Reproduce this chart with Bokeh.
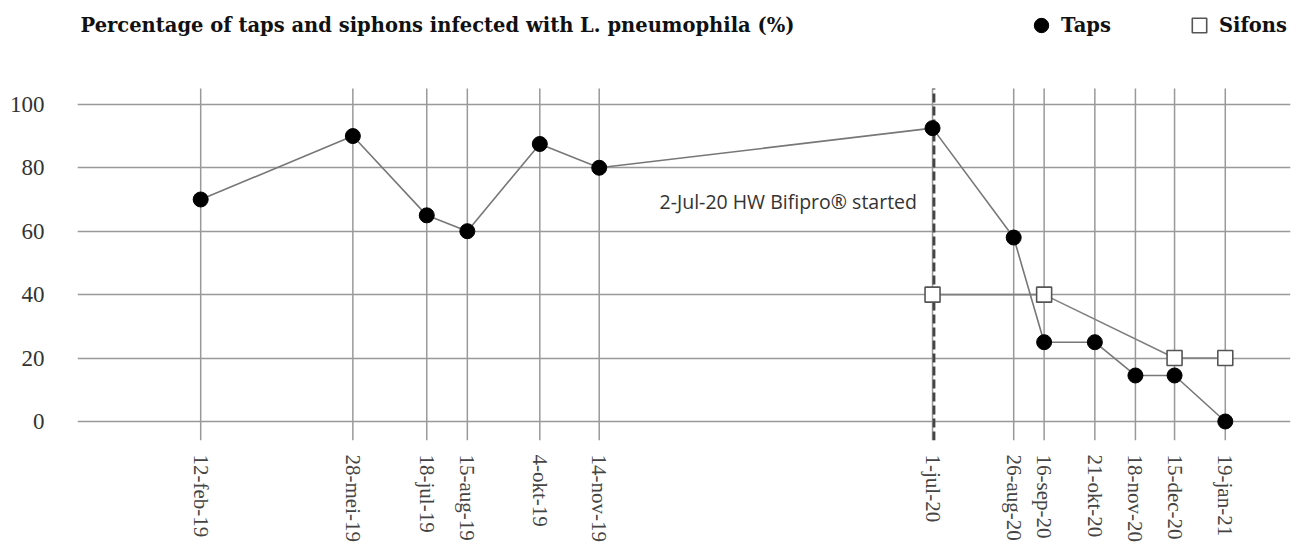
import math
from datetime import datetime
from bokeh.plotting import figure
from bokeh.models import ColumnDataSource, FixedTicker, Range1d, Label, Legend, LegendItem
from bokeh.embed import file_html
from bokeh.resources import INLINE

# ---- data ----
tap_dates = ["2019-02-12", "2019-05-28", "2019-07-18", "2019-08-15", "2019-10-04", "2019-11-14",
             "2020-07-01", "2020-08-26", "2020-09-16", "2020-10-21", "2020-11-18", "2020-12-15", "2021-01-19"]
tap_labels = ["12-feb-19", "28-mei-19", "18-jul-19", "15-aug-19", "4-okt-19", "14-nov-19",
              "1-jul-20", "26-aug-20", "16-sep-20", "21-okt-20", "18-nov-20", "15-dec-20", "19-jan-21"]
tap_values = [70, 90, 65, 60, 87.5, 80, 92.5, 58, 25, 25, 14.5, 14.5, 0]
sifon_dates = ["2020-07-01", "2020-09-16", "2020-12-15", "2021-01-19"]
sifon_values = [40, 40, 20, 20]
y_ticks = [0, 20, 40, 60, 80, 100]
start_date = "2020-07-02"
annotation = "2-Jul-20 HW Bifipro\u00ae started"
title_text = "Percentage of taps and siphons infected with L. pneumophila (%)"
x_start, x_end = "2018-11-19", "2021-03-05"

# layout constants (extent of the vertical grid lines, in value units)
grid_lo, grid_hi = -6, 105
y_top = 132.75


def to_dt(s):
    return datetime.strptime(s, "%Y-%m-%d")


def ms(s):
    return int((to_dt(s) - datetime(1970, 1, 1)).total_seconds() * 1000)


tick_ms = [ms(d) for d in tap_dates]

tap_src = ColumnDataSource(dict(x=[to_dt(d) for d in tap_dates], y=tap_values))
sif_src = ColumnDataSource(dict(x=[to_dt(d) for d in sifon_dates], y=sifon_values))
vgrid_src = ColumnDataSource(dict(x=[to_dt(d) for d in tap_dates],
                                  y0=[grid_lo] * len(tap_dates), y1=[grid_hi] * len(tap_dates)))

p = figure(width=1297, height=545, x_axis_type="datetime", output_backend="svg",
           toolbar_location=None,
           x_range=Range1d(ms(x_start), ms(x_end)), y_range=Range1d(grid_lo, y_top),
           min_border_left=77, min_border_right=7, min_border_top=0, min_border_bottom=105)
p.outline_line_color = None
p.background_fill_color = "white"
p.title.visible = False

# grids
grid_color = "#999999"
p.xgrid.visible = False
p.ygrid.ticker = FixedTicker(ticks=y_ticks)
p.ygrid.grid_line_color = grid_color
p.ygrid.grid_line_width = 1.5
p.segment(x0="x", y0="y0", x1="x", y1="y1", source=vgrid_src,
          line_color=grid_color, line_width=1.5)

serif = "Liberation Serif"

# y axis
p.yaxis.ticker = FixedTicker(ticks=y_ticks)
p.yaxis.axis_line_color = None
p.yaxis.major_tick_line_color = None
p.yaxis.minor_tick_line_color = None
p.yaxis.major_label_text_font = serif
p.yaxis.major_label_text_font_size = "23px"
p.yaxis.major_label_text_color = "#333333"
p.yaxis.major_label_standoff = 27

# x axis
p.xaxis.ticker = FixedTicker(ticks=tick_ms)
p.xaxis.major_label_overrides = dict(zip(tick_ms, tap_labels))
p.xaxis.major_label_orientation = -math.pi / 2
p.xaxis.axis_line_color = None
p.xaxis.major_tick_line_color = None
p.xaxis.minor_tick_line_color = None
p.xaxis.major_label_text_font = serif
p.xaxis.major_label_text_font_size = "21px"
p.xaxis.major_label_text_color = "#444444"
p.xaxis.major_label_standoff = 8

# start line
p.segment(x0=[to_dt(start_date)], y0=[grid_lo], x1=[to_dt(start_date)], y1=[grid_hi],
          line_color="#444444", line_dash="9 4", line_width=2.8)
p.add_layout(Label(x=ms(start_date), y=69.5, x_offset=-17, text=annotation,
                   text_align="right", text_baseline="middle", text_font="Open Sans",
                   text_font_size="19.5px", text_color="#333333"))

# series
p.line("x", "y", source=sif_src, line_color="#808080", line_width=1.6)
p.line("x", "y", source=tap_src, line_color="#777777", line_width=1.6)
r_sif = p.scatter("x", "y", source=sif_src, marker="square", size=15, fill_color="white",
                  line_color="#555555", line_width=1.6)
r_tap = p.scatter("x", "y", source=tap_src, marker="circle", size=15, fill_color="black",
                  line_color="black")

# title
p.add_layout(Label(x=3, y=415, x_units="screen", y_units="screen", text=title_text,
                   text_baseline="middle", text_font="DejaVu Serif", text_font_style="bold",
                   text_font_size="19.5px", text_color="#111111"))

legend = Legend(items=[LegendItem(label="Taps", renderers=[r_tap]),
                       LegendItem(label="Sifons", renderers=[r_sif])],
                orientation="horizontal", location=(946, 397),
                label_text_font="DejaVu Serif", label_text_font_style="bold",
                label_text_font_size="19.5px", label_text_color="#111111",
                spacing=70, glyph_width=36, glyph_height=36, label_standoff=2,
                padding=0, margin=0, border_line_color=None, background_fill_alpha=0)
p.add_layout(legend)

open("out.html", "w").write(file_html(p, INLINE))
